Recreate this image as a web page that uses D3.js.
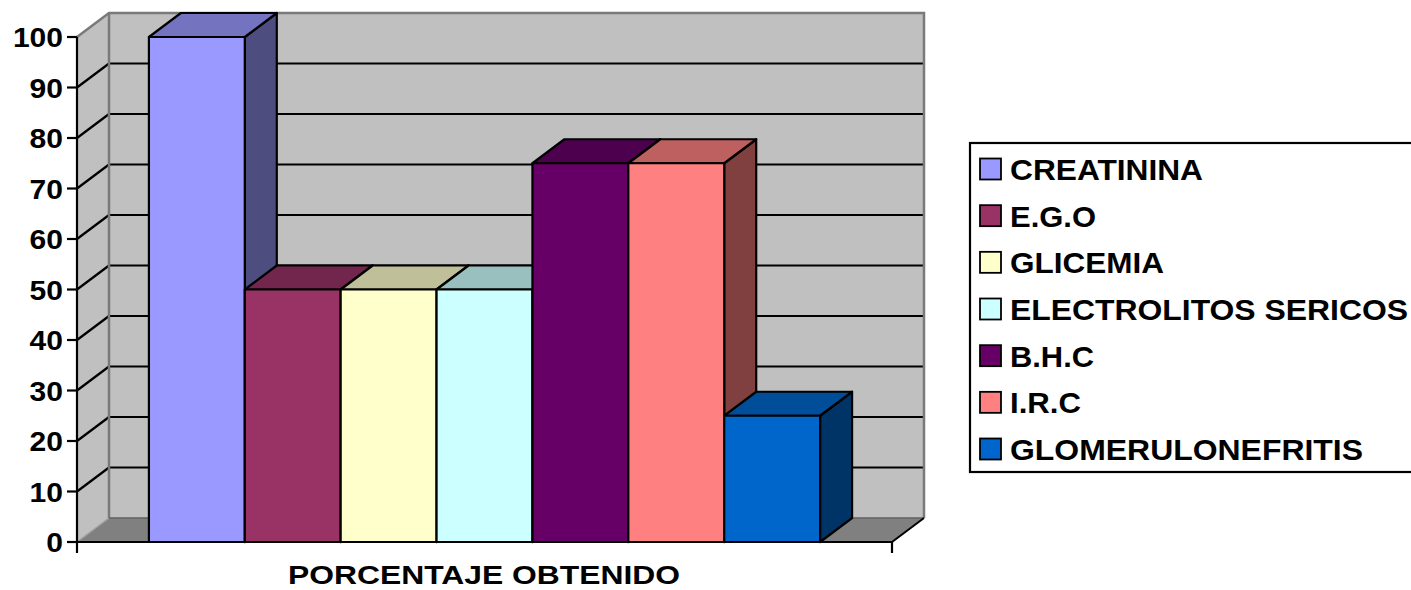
<!DOCTYPE html>
<html><head><meta charset="utf-8">
<script src="https://cdn.jsdelivr.net/npm/d3@7"></script>
<style>html,body{margin:0;padding:0;background:#fff;}svg{display:block;font-family:Arial,"Liberation Sans",sans-serif;font-weight:bold;}</style>
</head><body>
<svg id="c" width="1411" height="590"></svg>
<script>
const categories = ["PORCENTAJE OBTENIDO"];
const series = ["CREATININA","E.G.O","GLICEMIA","ELECTROLITOS SERICOS","B.H.C","I.R.C","GLOMERULONEFRITIS"];
const values = [100, 50, 50, 50, 75, 75, 25];
const colors = ["#9999FF","#993366","#FFFFCC","#CCFFFF","#660066","#FF8080","#0066CC"];
const yTicks = [0,10,20,30,40,50,60,70,80,90,100];
const legendWidths = [193, 86, 154, 398, 84, 71, 353];

const svg = d3.select("#c");
const X0 = 77, X1 = 892, Y0 = 542, Y1 = 37, DX = 32, DY = -24;
const y = d3.scaleLinear().domain([0,100]).range([Y0, Y1]);
const x = d3.scaleBand().domain(series).range([X0, X1]).paddingInner(0).paddingOuter(0.75);
const shade = (c,k) => { const r = d3.rgb(c); return d3.rgb(r.r*k, r.g*k, r.b*k).formatHex(); };
const pts = a => a.map(p => p.join(",")).join(" ");

// walls
svg.append("polygon").attr("points", pts([[X0+DX,y(100)+DY],[X1+DX,y(100)+DY],[X1+DX,Y0+DY],[X0+DX,Y0+DY]])).attr("fill","#C0C0C0");
svg.append("polygon").attr("points", pts([[X0,y(100)],[X0+DX,y(100)+DY],[X0+DX,Y0+DY],[X0,Y0]])).attr("fill","#C0C0C0");
svg.append("polygon").attr("points", pts([[X0,Y0],[X0+DX,Y0+DY],[X1+DX,Y0+DY],[X1,Y0]])).attr("fill","#808080");

// gridlines
const gt = yTicks.filter(t => t>0 && t<100);
svg.selectAll(".gb").data(gt).enter().append("line")
  .attr("x1", X0+DX).attr("x2", X1+DX).attr("y1", d=>y(d)+DY).attr("y2", d=>y(d)+DY)
  .attr("stroke","#000").attr("stroke-width",2.2);
svg.selectAll(".gs").data(gt).enter().append("line")
  .attr("x1", X0).attr("x2", X0+DX).attr("y1", d=>y(d)).attr("y2", d=>y(d)+DY)
  .attr("stroke","#000").attr("stroke-width",2.2);

// wall borders
const wb = svg.append("g").attr("fill","none").attr("stroke","#7a7a7a").attr("stroke-width",2.5);
wb.append("polyline").attr("points", pts([[X0,y(100)],[X0+DX,y(100)+DY],[X1+DX,y(100)+DY],[X1+DX,Y0+DY]]));
wb.append("line").attr("x1",X0+DX).attr("x2",X0+DX).attr("y1",y(100)+DY).attr("y2",Y0+DY);
svg.append("line").attr("x1",X0).attr("y1",Y0).attr("x2",X0+DX).attr("y2",Y0+DY).attr("stroke","#a0a0a0").attr("stroke-width",1.5);
svg.append("line").attr("x1",X0+DX).attr("y1",Y0+DY).attr("x2",X1+DX).attr("y2",Y0+DY).attr("stroke","#606060").attr("stroke-width",1.5);
svg.append("line").attr("x1",X1).attr("y1",Y0).attr("x2",X1+DX).attr("y2",Y0+DY).attr("stroke","#000").attr("stroke-width",2);

// bars
const bars = svg.append("g").attr("stroke","#000").attr("stroke-width",2.2).attr("stroke-linejoin","round");
series.forEach((s,i) => {
  const xl = x(s), xr = x(s)+x.bandwidth(), yt = y(values[i]);
  const g = bars.append("g");
  g.append("polygon").attr("points", pts([[xr,yt],[xr+DX,yt+DY],[xr+DX,Y0+DY],[xr,Y0]])).attr("fill", shade(colors[i],0.5));
  g.append("polygon").attr("points", pts([[xl,yt],[xl+DX,yt+DY],[xr+DX,yt+DY],[xr,yt]])).attr("fill", shade(colors[i],0.75));
  g.append("rect").attr("x",xl).attr("y",yt).attr("width",x.bandwidth()).attr("height",Y0-yt).attr("fill",colors[i]);
});

// axes
svg.append("line").attr("x1",X0).attr("x2",X0).attr("y1",Y1).attr("y2",Y0+11).attr("stroke","#000").attr("stroke-width",2.2);
svg.append("line").attr("x1",X0).attr("x2",X1).attr("y1",Y0).attr("y2",Y0).attr("stroke","#000").attr("stroke-width",2.2);
svg.append("line").attr("x1",X1).attr("x2",X1).attr("y1",Y0).attr("y2",Y0+11).attr("stroke","#000").attr("stroke-width",2.2);
svg.selectAll(".yt").data(yTicks).enter().append("line")
  .attr("x1",X0-10).attr("x2",X0).attr("y1",d=>y(d)).attr("y2",d=>y(d)).attr("stroke","#000").attr("stroke-width",2.2);
svg.selectAll(".yl").data(yTicks).enter().append("text")
  .attr("x",63).attr("y",d=>y(d)+10).attr("text-anchor","end").attr("font-size",27.5)
  .attr("textLength",d=>String(d).length*16.7).attr("lengthAdjust","spacingAndGlyphs")
  .text(d=>d);

// category label
const cx = d3.scaleBand().domain(categories).range([X0, X1]);
svg.selectAll(".cl").data(categories).enter().append("text")
  .attr("x", d=>cx(d)+cx.bandwidth()/2 - 0.5).attr("y",584).attr("text-anchor","middle").attr("font-size",26.5)
  .attr("textLength",392).attr("lengthAdjust","spacingAndGlyphs").text(d=>d);

// legend
svg.append("rect").attr("x",970).attr("y",143).attr("width",460).attr("height",329).attr("fill","#fff").attr("stroke","#000").attr("stroke-width",2.2);
const ly = d3.scalePoint().domain(series).range([169, 449]);
const lg = svg.selectAll(".lg").data(series).enter().append("g");
lg.append("rect").attr("x",980).attr("y",d=>ly(d)-10.5).attr("width",21).attr("height",21)
  .attr("fill",(d,i)=>colors[i]).attr("stroke","#000").attr("stroke-width",1.8);
lg.append("text").attr("x",1010).attr("y",d=>ly(d)+11).attr("font-size",29.5)
  .attr("textLength",(d,i)=>legendWidths[i]).attr("lengthAdjust","spacingAndGlyphs").text(d=>d);
</script>
</body></html>
